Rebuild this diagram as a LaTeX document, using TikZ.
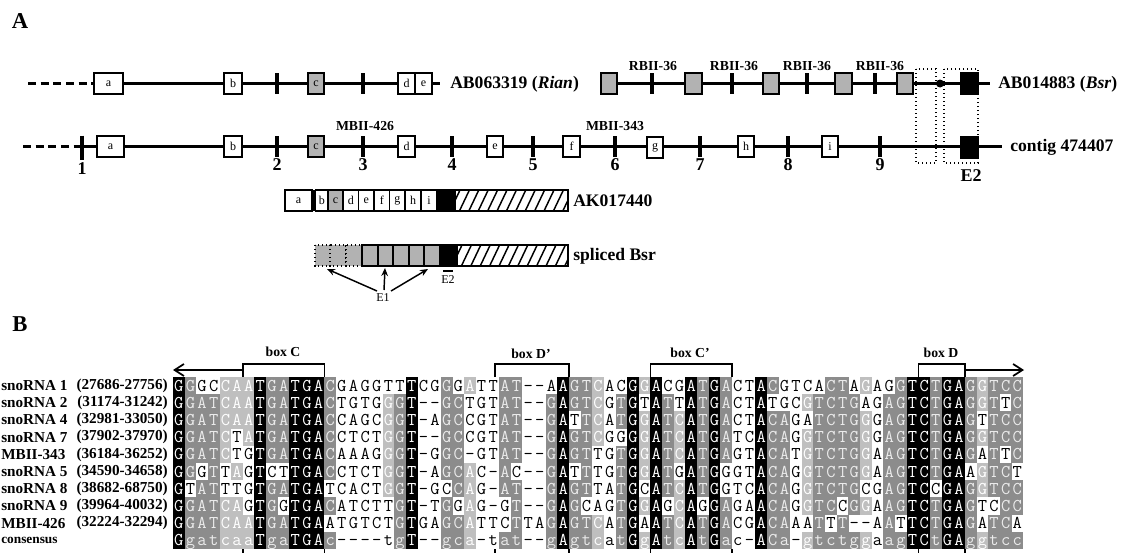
\documentclass[tikz,border=0pt]{standalone}
\usepackage{fontspec}
\setmainfont{Liberation Serif}
\usetikzlibrary{arrows.meta}

\ExplSyntaxOn
\str_const:Nn \c__al_level_str
  { KDDDLLLKDDKKKD WWWW LDK WW DDL WW DD WW DKDDL W DKLKDLKDKD WW KDD W LDDDDL W DDKKDKKDLDDD }
\str_const:Nn \c__al_major_str
  { GGATCAATGATGAC ---- GGT -- GCA -- AT -- GAGTC - TGGATCATGA -- ACA - GTCTGG - AGTCTGAGGTCC }
\str_new:N \l__al_seq_str
\str_new:N \l__al_cmp_str
\str_new:N \l__al_ch_str
\str_new:N \l__al_cc_str
\str_new:N \l__al_lv_str
\str_new:N \l__al_mj_str
\tl_new:N \l__al_shade_tl
\NewDocumentCommand \AlignRow { m m m }
  {
    \str_set:Nn \l__al_seq_str {#2}
    \str_set:Nn \l__al_cmp_str {#3}
    \int_step_inline:nn { \str_count:N \l__al_seq_str }
      {
        \str_set:Nx \l__al_ch_str { \str_item:Nn \l__al_seq_str {##1} }
        \str_set:Nx \l__al_cc_str { \str_item:Nn \l__al_cmp_str {##1} }
        \str_set:Nx \l__al_lv_str { \str_item:Nn \c__al_level_str {##1} }
        \str_set:Nx \l__al_mj_str { \str_item:Nn \c__al_major_str {##1} }
        \str_if_eq:VVTF \l__al_cc_str \l__al_mj_str
          { \tl_set:Nx \l__al_shade_tl { \l__al_lv_str } }
          { \tl_set:Nn \l__al_shade_tl { W } }
        \use:e { \exp_not:N \AlCell { \l__al_shade_tl } { \int_eval:n { ##1 - 1 } } { #1 } { \l__al_ch_str } }
      }
  }
\ExplSyntaxOff

\newcommand\AlCell[4]{\node[alcell,cell#1] (c#3x#2) at ({178.823+11.646*#2},{385.6+17.2*#3}) {#4};}
\newcommand\ExonBox[6]{\draw[exon,#5] (#2,{#4-10.5}) rectangle (#3,{#4+10.5}) node[midway,boxlab] (#1) {#6};}
\newcommand\GTick[3]{\draw[gtick] (#1,{#2-#3}) -- (#1,{#2+#3});}
\newcommand\HatchBox[4]{%
  \begin{scope}
    \clip (#1,#3) rectangle (#2,#4);
    \foreach \hx in {0,9.4,...,122} {\draw[hatchline] ({#1+\hx-5},#4) -- ({#1+\hx+5},#3);}
  \end{scope}
  \draw[exon,fill=none] (#1,#3) rectangle (#2,#4);}

\tikzset{
  gline/.style={line width=2.3pt},
  dashline/.style={line width=2.3pt, dash pattern=on 6pt off 3.5pt},
  gtick/.style={line width=3pt},
  exon/.style={draw, line width=1.1pt, fill=white},
  grayex/.style={fill=black!30},
  blackex/.style={fill=black},
  hatchline/.style={line width=1.1pt},
  dotbox/.style={draw, dotted, line width=1pt},
  boxlab/.style={font=\fontsize{9}{10}\selectfont, inner sep=0pt},
  mainlab/.style={font=\bfseries\fontsize{13.2}{14}\selectfont, anchor=west, inner sep=0pt},
  smalllab/.style={font=\bfseries\fontsize{10.3}{11}\selectfont, inner sep=0pt},
  numlab/.style={font=\bfseries\fontsize{13.5}{14}\selectfont, inner sep=0pt},
  panellab/.style={font=\bfseries\fontsize{17}{18}\selectfont, inner sep=0pt},
  reglab/.style={font=\fontsize{9}{10}\selectfont, inner sep=0pt},
  e1arrow/.style={line width=1.1pt, -{Stealth[length=6pt,width=5pt]}},
  seqarrow/.style={line width=1.3pt, -{Straight Barb[length=7pt,width=9pt]}},
  bracket/.style={line width=1.2pt},
  boxhead/.style={font=\bfseries\fontsize{10.3}{11}\selectfont, inner sep=0pt},
  rowname/.style={font=\bfseries\fontsize{11.4}{12}\selectfont, anchor=west, inner sep=0pt},
  rowrange/.style={font=\bfseries\fontsize{11.4}{12}\selectfont, anchor=east, inner sep=0pt},
  alcell/.style={inner sep=0pt, minimum width=8.82pt, minimum height=13pt,
    text height=8.2pt, text depth=0pt, font=\ttfamily\fontsize{13.5}{13.5}\selectfont},
  cellK/.style={fill=black, text=white},
  cellD/.style={fill=black!45, text=black!8},
  cellL/.style={fill=black!25, text=white},
  cellW/.style={text=black}
}

\begin{document}
\begin{tikzpicture}[x=0.75pt,y=-0.75pt]
\fill[white] (0,0) rectangle (1126,553);
\useasboundingbox (0,0) rectangle (1126,553);

% ---------------- Panel A ----------------
\node[panellab] (A) at (20,21) {A};

% line 1 left (Rian)
\coordinate (l1d) at (28,83.5);
\coordinate (l1s) at (94,83.5);
\coordinate (l1e) at (440,83.5);
\draw[dashline] (l1d) -- (l1s);
\draw[gline] (l1s) -- (l1e);
\GTick{277}{83.5}{10.5}
\GTick{363}{83.5}{10.5}
\ExonBox{ra}{94}{123}{83.5}{}{a}
\ExonBox{rb}{224}{242}{83.5}{}{b}
\ExonBox{rc}{308}{324}{83.5}{grayex}{c}
\ExonBox{rd}{398}{415}{83.5}{}{d}
\ExonBox{re}{415}{432}{83.5}{}{e}
\node[mainlab] (rian) at (450,84) {AB063319 (\textit{Rian})};

% line 1 right (Bsr)
\coordinate (b1s) at (601,83.5);
\coordinate (b1e) at (990,83.5);
\draw[gline] (b1s) -- (b1e);
\foreach \tx in {652,732,807,875} {\GTick{\tx}{83.5}{10.5}}
\ExonBox{g1}{601}{617}{83.5}{grayex}{}
\ExonBox{g2}{685}{702}{83.5}{grayex}{}
\ExonBox{g3}{763}{779}{83.5}{grayex}{}
\ExonBox{g4}{835}{852}{83.5}{grayex}{}
\ExonBox{g5}{897}{913}{83.5}{grayex}{}
\fill (940,83.5) circle[radius=3pt];
\ExonBox{bE2}{961}{978}{83.5}{blackex}{}
\node[smalllab] (rb1) at (653,66) {RBII-36};
\node[smalllab] (rb2) at (734,66) {RBII-36};
\node[smalllab] (rb3) at (807,66) {RBII-36};
\node[smalllab] (rb4) at (880,66) {RBII-36};
\node[mainlab] (bsr) at (998,84) {AB014883 (\textit{Bsr})};

% line 2 (contig)
\coordinate (l2d) at (23,146.5);
\coordinate (l2s) at (82,146.5);
\coordinate (l2e) at (1002,146.5);
\draw[dashline] (l2d) -- (l2s);
\draw[gline] (l2s) -- (l2e);
\GTick{82}{147.5}{12}
\foreach \tx in {277,363,452,533,615,700,788,880} {\GTick{\tx}{146.5}{10.5}}
\ExonBox{ca}{97}{124}{146.5}{}{a}
\ExonBox{cb}{224}{242}{146.5}{}{b}
\ExonBox{cc}{308}{324}{146.5}{grayex}{c}
\ExonBox{cd}{398}{415}{146.5}{}{d}
\ExonBox{ce}{487}{503}{146.5}{}{e}
\ExonBox{cf}{563}{580}{146.5}{}{f}
\ExonBox{cg}{647}{663}{147.5}{}{g}
\ExonBox{ch}{738}{754}{146.5}{}{h}
\ExonBox{ci}{822}{838}{146.5}{}{i}
\ExonBox{cE2}{961}{978}{147.5}{blackex}{}
\node[numlab] (n1) at (82,169) {1};
\node[numlab] (n2) at (277,165) {2};
\node[numlab] (n3) at (363,165) {3};
\node[numlab] (n4) at (452,165) {4};
\node[numlab] (n5) at (533,165) {5};
\node[numlab] (n6) at (615,165) {6};
\node[numlab] (n7) at (700,165) {7};
\node[numlab] (n8) at (788,165) {8};
\node[numlab] (n9) at (880,165) {9};
\node[smalllab] (m426) at (365,126) {MBII-426};
\node[smalllab] (m343) at (615,126) {MBII-343};
\node[mainlab] (contig) at (1010,147) {contig 474407};
\node[numlab] (E2a) at (971,176) {E2};

% dotted frames
\draw[dotbox] (916,69) rectangle (936,163);
\draw[dotbox] (944,69) rectangle (978,163);

% AK017440 bar
\draw[exon] (285,190) rectangle (312,211) node[midway,boxlab] (ka) {a};
\fill (312,190) rectangle (315.5,211);
\draw[exon] (315.5,190) rectangle (328,211) node[midway,boxlab] (kb) {b};
\draw[exon,grayex] (328,190) rectangle (343,211) node[midway,boxlab] (kc) {c};
\draw[exon] (343,190) rectangle (358.5,211) node[midway,boxlab] (kd) {d};
\draw[exon] (358.5,190) rectangle (374,211) node[midway,boxlab] (ke) {e};
\draw[exon] (374,190) rectangle (389.5,211) node[midway,boxlab] (kf) {f};
\draw[exon] (389.5,190) rectangle (405,211) node[midway,boxlab] (kg) {g};
\draw[exon] (405,190) rectangle (421,211) node[midway,boxlab] (kh) {h};
\draw[exon] (421,190) rectangle (437,211) node[midway,boxlab] (ki) {i};
\draw[exon,blackex] (437,190) rectangle (455,211);
\HatchBox{455}{568}{190}{211}
\node[mainlab] (ak) at (573,200.5) {AK017440};

% spliced Bsr bar
\draw[dotbox,fill=black!30] (315,245) rectangle (330,266);
\draw[dotbox,fill=black!30] (330,245) rectangle (346,266);
\draw[dotbox,fill=black!30] (346,245) rectangle (362,266);
\foreach \sx in {362,377.6,393.2,408.8,424.4} {\draw[exon,grayex,line width=1.5pt] (\sx,245) rectangle ({\sx+15.6},266);}
\draw[exon,blackex] (440,245) rectangle (457,266);
\HatchBox{457}{568}{245}{266}
\node[mainlab] (spl) at (573,256) {spliced Bsr};
\coordinate (e2l) at (443,271);
\coordinate (e2r) at (453,271);
\draw[line width=1pt] (e2l) -- (e2r);
\node[reglab] (E2b) at (448,280) {E2};
\node[reglab] (E1) at (383,298) {E1};
\coordinate (t1) at (327,269);
\coordinate (t2) at (385,268);
\coordinate (t3) at (428,269);
\coordinate (s1) at (377,291);
\coordinate (s2) at (384,290);
\coordinate (s3) at (391,291);
\draw[e1arrow] (s1) -- (t1);
\draw[e1arrow] (s2) -- (t2);
\draw[e1arrow] (s3) -- (t3);

% ---------------- Panel B ----------------
\node[panellab] (B) at (20,324) {B};

% box headers and brackets
\node[boxhead] (hC) at (283,352) {box C};
\node[boxhead] (hDp) at (531,354) {box D'};
\node[boxhead] (hCp) at (690,353) {box C'};
\node[boxhead] (hD) at (941,353) {box D};
\foreach \xa/\xb in {242.9/324.4, 495/569, 650.5/732.1, 918.3/964.9} {
  \draw[bracket] (\xa,377) -- (\xa,364) -- (\xb,364) -- (\xb,377);
  \draw[bracket] (\xa,549) -- (\xa,553);
  \draw[bracket] (\xb,549) -- (\xb,553);
}
\coordinate (aLs) at (242.9,370);
\coordinate (aLe) at (173,370);
\coordinate (aRs) at (966,370);
\coordinate (aRe) at (1024,370);
\draw[seqarrow] (aLs) -- (aLe);
\draw[seqarrow] (aRs) -- (aRe);

% row labels
\node[rowname] (nm0) at (1,385.6) {snoRNA 1};   \node[rowrange] (rg0) at (168,385.6) {(27686-27756)};
\node[rowname] (nm1) at (1,402.8) {snoRNA 2};   \node[rowrange] (rg1) at (168,402.8) {(31174-31242)};
\node[rowname] (nm2) at (1,420.0) {snoRNA 4};   \node[rowrange] (rg2) at (168,420.0) {(32981-33050)};
\node[rowname] (nm3) at (1,437.2) {snoRNA 7};   \node[rowrange] (rg3) at (168,437.2) {(37902-37970)};
\node[rowname] (nm4) at (1,454.4) {MBII-343};   \node[rowrange] (rg4) at (168,454.4) {(36184-36252)};
\node[rowname] (nm5) at (1,471.6) {snoRNA 5};   \node[rowrange] (rg5) at (168,471.6) {(34590-34658)};
\node[rowname] (nm6) at (1,488.8) {snoRNA 8};   \node[rowrange] (rg6) at (168,488.8) {(38682-68750)};
\node[rowname] (nm7) at (1,506.0) {snoRNA 9};   \node[rowrange] (rg7) at (168,506.0) {(39964-40032)};
\node[rowname] (nm8) at (1,523.2) {MBII-426};   \node[rowrange] (rg8) at (168,523.2) {(32224-32294)};
\node[rowname,font=\bfseries\fontsize{10}{11}\selectfont] (nm9) at (1,540.4) {consensus};

% alignment
\AlignRow{0}{GGGCCAATGATGACGAGGTTTCGGGATTAT--AAGTCACGGACGATGACTACGTCACTAGAGGTCTGAGGTCC}{GGGCCAATGATGACGAGGTTTCGGGATTAT--AAGTCACGGACGATGACTACGTCACTAGAGGTCTGAGGTCC}
\AlignRow{1}{GGATCAATGATGACTGTGGGT--GCTGTAT--GAGTCGTGTATTATGACTATGCGTCTGAGAGTCTGAGGTTC}{GGATCAATGATGACTGTGGGT--GCTGTAT--GAGTCGTGTATTATGACTATGCGTCTGAGAGTCTGAGGTTC}
\AlignRow{2}{GGATCAATGATGACCAGCGGT-AGCCGTAT--GATTCATGGATCATGACTACAGATCTGGGAGTCTGAGTTCC}{GGATCAATGATGACCAGCGGT-AGCCGTAT--GATTCATGGATCATGACTACAGATCTGGGAGTCTGAGTTCC}
\AlignRow{3}{GGATCTATGATGACCTCTGGT--GCCGTAT--GAGTCGGGGATCATGATCACAGGTCTGGGAGTCTGAGGTCC}{GGATCTATGATGACCTCTGGT--GCCGTAT--GAGTCGGGGATCATGATCACAGGTCTGGGAGTCTGAGGTCC}
\AlignRow{4}{GGATCTGTGATGACAAAGGGT-GGC-GTAT--GAGTTGTGGATCATGAGTACATGTCTGGAAGTCTGAGATTC}{GGATCTGTGATGACAAAGGGT-GGC-GTAT--GAGTTGTGGATCATGAGTACATGTCTGGAAGTCTGAGATTC}
\AlignRow{5}{GGGTTAGTCTTGACCTCTGGT-AGCAC-AC--GATTTGTGGATGATGGGTACAGGTCTGGAAGTCTGAAGTCT}{GGGTTAGTCTTGACCTCTGGT-AGCAC-AC--GATTTGTGGATGATGGGTACAGGTCTGGAAGTCTGAAGTCT}
\AlignRow{6}{GTATTTGTGATGATCACTGGT-GCCAG-AT--GAGTTATGCATCATGGTCACAGGTCTGCGAGTCCGAGGTCC}{GTATTTGTGATGATCACTGGT-GCCAG-AT--GAGTTATGCATCATGGTCACAGGTCTGCGAGTCCGAGGTCC}
\AlignRow{7}{GGATCAGTGGTGACATCTTGT-TGGAG-GT--GAGCAGTGGAGCAGGAGAACAGGTCCGGAAGTCTGAGTCCC}{GGATCAGTGGTGACATCTTGT-TGGAG-GT--GAGCAGTGGAGCAGGAGAACAGGTCCGGAAGTCTGAGTCCC}
\AlignRow{8}{GGATCAATGATGAATGTCTGTGAGCATTCTTAGAGTCATGAATCATGACGACAAATTT--AATTCTGAGATCA}{GGATCAATGATGAATGTCTGTGAGCATTCTTAGAGTCATGAATCATGACGACAAATTT--AATTCTGAGATCA}
\AlignRow{9}{GgatcaaTgaTGAc----tgT--gca-tat--gAgtcatGgAtcAtGac-ACa-gtctggaagTCtGAggtcc}{GGATCAATGATGAC----TGT--GCA-TAT--GAGTCATGGATCATGAC-ACA-GTCTGGAAGTCTGAGGTCC}
\end{tikzpicture}
\end{document}
